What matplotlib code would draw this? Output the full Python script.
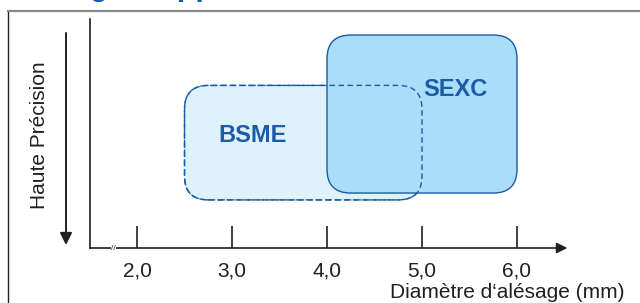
import matplotlib.pyplot as plt
from matplotlib.patches import FancyBboxPatch
from matplotlib.lines import Line2D

plt.rcParams['font.family'] = ['Liberation Sans', 'DejaVu Sans']

# Axe des diamètres d'alésage (mm)
diam_ticks = [2.0, 3.0, 4.0, 5.0, 6.0]
diam_labels = ['2,0', '3,0', '4,0', '5,0', '6,0']

# Plages d'application : diamètre min / max et précision (échelle arbitraire 0-100)
products = ['BSME', 'SEXC']
diam_min = [2.5, 4.0]
diam_max = [5.0, 6.0]
prec_low = [21, 24]
prec_high = [71, 93]

ink = '#231f20'
blue = '#1b5ba8'
fills = ['#dff2fb', '#a9ddf8']

fig = plt.figure(figsize=(6.4, 3.03), dpi=100)
ax = fig.add_axes([90 / 640, 55 / 303, 480 / 640, 229 / 303])
ax.set_xlim(1.505, 6.558)
ax.set_ylim(0, 100)

# keep corners round even though x and y scales differ
aspect = (100 / 229) / (1 / 95)

def box(i, fill, edge, ls, z):
    p = FancyBboxPatch((diam_min[i], prec_low[i]), diam_max[i] - diam_min[i],
                       prec_high[i] - prec_low[i],
                       boxstyle='round,pad=0,rounding_size=0.25',
                       mutation_aspect=aspect, facecolor=fill, edgecolor=edge,
                       linewidth=1.0, linestyle=ls, zorder=z)
    ax.add_patch(p)

box(0, fills[0], blue, (0, (5, 2)), 2)
box(1, fills[1], blue, '-', 3)
box(0, 'none', blue, (0, (4, 2.5)), 4)

ax.text(3.22, 49, products[0], fontsize=17, weight='bold', color=blue,
        ha='center', va='center', zorder=5)
ax.text(5.35, 69, products[1], fontsize=17, weight='bold', color=blue,
        ha='center', va='center', zorder=5)

# axes
for s in ['top', 'right', 'bottom']:
    ax.spines[s].set_visible(False)
ax.spines['left'].set_color(ink)
ax.spines['left'].set_linewidth(1.2)
ax.annotate('', xy=(6.53, 0), xytext=(1.505, 0), annotation_clip=False,
            arrowprops=dict(arrowstyle='-|>', mutation_scale=16, lw=1.2,
                            color=ink, shrinkA=0, shrinkB=0))
ax.set_xticks(diam_ticks)
ax.set_xticklabels(diam_labels, fontsize=15, color=ink)
ax.tick_params(axis='x', direction='in', length=16, width=1.2, color=ink, pad=10)
ax.set_yticks([])
ax.text(1.75, 0, '//', fontsize=6, ha='center', va='center', color=ink,
        bbox=dict(facecolor='white', edgecolor='none', pad=0), zorder=6)

fig.text(625 / 640, 11 / 303, 'Diamètre d\u2018alésage (mm)', fontsize=15,
         color=ink, ha='right', va='center')

# axe "Haute Précision"
ax.annotate('', xy=(66, 58), xycoords='figure pixels', xytext=(66, 270),
            textcoords='figure pixels', annotation_clip=False,
            arrowprops=dict(arrowstyle='-|>', mutation_scale=18, lw=1.4,
                            color=ink, shrinkA=0, shrinkB=0))
fig.text(40 / 640, 168 / 303, 'Haute Précision', rotation=90, fontsize=15,
         color=ink, ha='center', va='center')

# cadre et titre coupé
fig.add_artist(Line2D([8 / 640, 8 / 640], [0, 292 / 303], color=ink, lw=1.0))
fig.add_artist(Line2D([8 / 640, 1], [292 / 303, 292 / 303], color='#8a8a8a', lw=1.6))
fig.text(44 / 640, 308 / 303, "Plage d'application", fontsize=22, weight='bold',
         color='#0a5cb0', va='baseline')

fig.savefig('out.png', dpi=100)
